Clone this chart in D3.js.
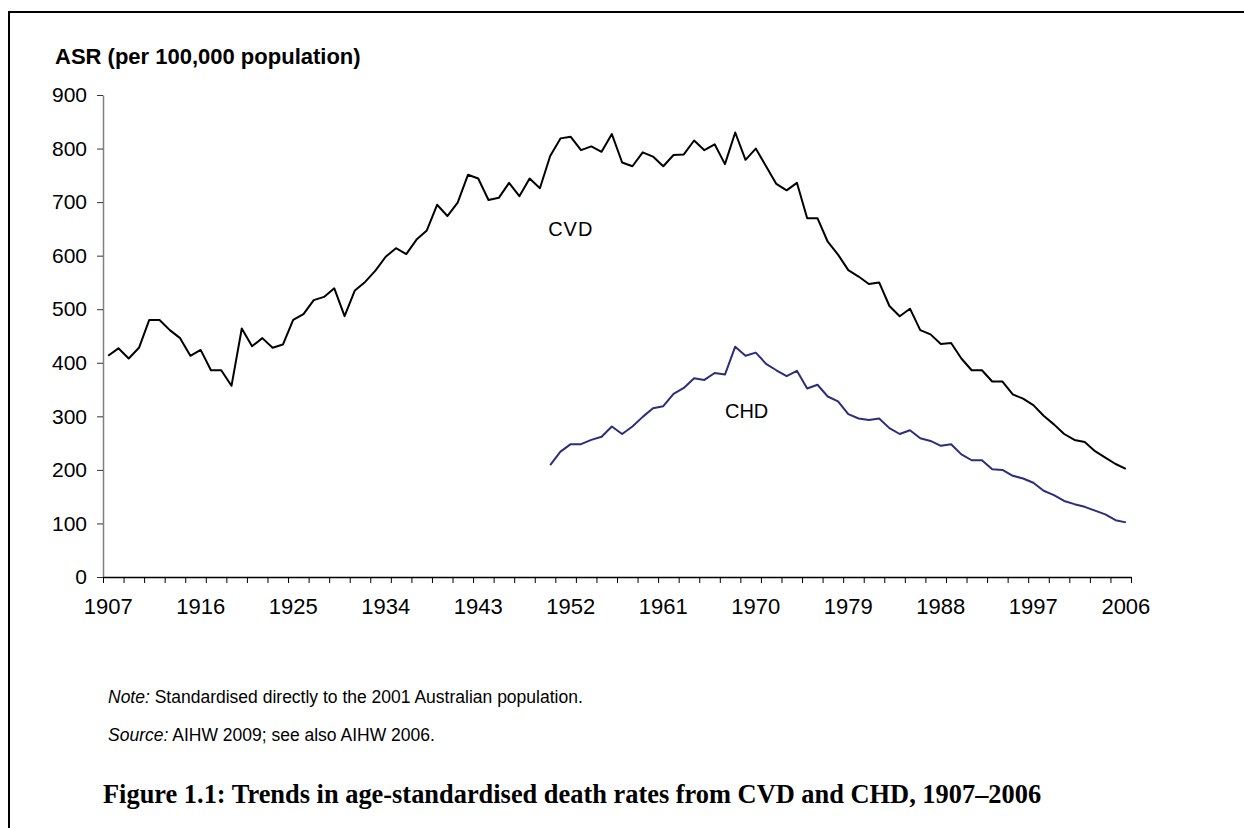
<!DOCTYPE html>
<html>
<head>
<meta charset="utf-8">
<script src="https://cdn.jsdelivr.net/npm/d3@7"></script>
<style>
  body { margin: 0; background: #fff; }
  svg { display: block; }
</style>
</head>
<body>
<div id="chart"></div>
<script>
// Data
const years = d3.range(1907, 2007);
const chdYears = d3.range(1950, 2007);

const cvdValues = [
  413, 427, 408, 428, 480, 480, 461, 446, 413, 424,
  386, 386, 357, 464, 431, 446, 428, 434, 480, 491,
  517, 523, 539, 487, 535, 551, 572, 598, 614, 603,
  630, 647, 695, 674, 699, 751, 744, 704, 708, 736,
  711, 744, 726, 786, 819, 822, 797, 804, 794, 827,
  774, 767, 793, 785, 767, 788, 789, 815, 797, 808,
  771, 830, 779, 800, 767, 734, 722, 736, 670, 670,
  626, 602, 573, 561, 547, 550, 506, 487, 501, 461,
  453, 435, 437, 408, 386, 386, 365, 365, 341, 333,
  321, 301, 285, 267, 256, 252, 235, 223, 211, 202
];

const chdValues = [
  209, 234, 248, 248, 256, 262, 281, 267, 281, 299,
  315, 319, 342, 353, 371, 368, 381, 378, 430, 413,
  419, 398, 386, 375, 385, 352, 359, 337, 328, 304,
  296, 293, 296, 278, 267, 274, 259, 254, 245, 248,
  229, 218, 218, 201, 200, 189, 184, 176, 161, 153,
  142, 136, 131, 124, 117, 106, 102
];

const yTicks = [0, 100, 200, 300, 400, 500, 600, 700, 800, 900];
const xLabels = [1907, 1916, 1925, 1934, 1943, 1952, 1961, 1970, 1979, 1988, 1997, 2006];

const width = 1244;
const height = 828;
const marginLeft = 103;
const marginRight = 113;
const plotTop = 95;
const plotBottom = 577;

const svg = d3.select("#chart")
  .append("svg")
  .attr("width", width)
  .attr("height", height)
  .attr("font-family", "Liberation Sans, Arial, sans-serif");

// Frame (top and left edges)
svg.append("path")
  .attr("d", `M9,${height} V12 H${width}`)
  .attr("fill", "none")
  .attr("stroke", "#000")
  .attr("stroke-width", 2);

// Scales
const x = d3.scaleBand()
  .domain(years)
  .range([marginLeft, width - marginRight])
  .padding(0);

const xEdge = d3.scaleLinear()
  .domain([1907, 2007])
  .range([marginLeft, width - marginRight]);

const y = d3.scaleLinear()
  .domain([0, 900])
  .range([plotBottom, plotTop]);

const cx = d => x(d) + x.bandwidth() / 2;

// Y axis
svg.append("g")
  .attr("transform", `translate(${marginLeft},0)`)
  .call(d3.axisLeft(y).tickValues(yTicks).tickSize(6).tickPadding(10).tickSizeOuter(0))
  .call(g => g.select(".domain").attr("stroke", "#808080").attr("stroke-width", 1.5))
  .call(g => g.selectAll(".tick line").attr("stroke", "#333"))
  .call(g => g.selectAll(".tick text")
    .attr("font-size", 21)
    .attr("font-family", "Liberation Sans, Arial, sans-serif")
    .attr("fill", "#000"));

// X axis: tick marks between categories every two years
svg.append("g")
  .attr("transform", `translate(0,${plotBottom})`)
  .call(d3.axisBottom(xEdge)
    .tickValues(d3.range(1907, 2008, 2).concat([2007]))
    .tickSize(6)
    .tickSizeOuter(0)
    .tickFormat(""))
  .call(g => g.select(".domain").attr("stroke", "#000").attr("stroke-width", 1.5))
  .call(g => g.selectAll(".tick line").attr("stroke", "#000"));

// X labels centred on categories
svg.append("g")
  .attr("transform", `translate(0,${plotBottom})`)
  .call(d3.axisBottom(x).tickValues(xLabels).tickSize(0).tickPadding(21))
  .call(g => g.select(".domain").remove())
  .call(g => g.selectAll(".tick text")
    .attr("font-size", 22)
    .attr("font-family", "Liberation Sans, Arial, sans-serif")
    .attr("fill", "#000"));

// Axis title
svg.append("text")
  .attr("x", 55)
  .attr("y", 64)
  .attr("font-size", 22)
  .attr("font-weight", "bold")
  .text("ASR (per 100,000 population)");

// Lines
const line = d3.line()
  .x(d => cx(d[0]))
  .y(d => y(d[1]));

svg.append("path")
  .datum(d3.zip(years, cvdValues))
  .attr("fill", "none")
  .attr("stroke", "#000")
  .attr("stroke-width", 2)
  .attr("stroke-linejoin", "round")
  .attr("d", line);

svg.append("path")
  .datum(d3.zip(chdYears, chdValues))
  .attr("fill", "none")
  .attr("stroke", "#2b2e7a")
  .attr("stroke-width", 2)
  .attr("stroke-linejoin", "round")
  .attr("d", line);

// Series labels
svg.append("text")
  .attr("x", cx(1950) - 2)
  .attr("y", y(650) + 7)
  .attr("font-size", 20)
  .attr("letter-spacing", 1)
  .text("CVD");

svg.append("text")
  .attr("x", cx(1967))
  .attr("y", y(310) + 7)
  .attr("font-size", 20)
  .text("CHD");

// Notes
const note = svg.append("text")
  .attr("x", 108)
  .attr("y", 703)
  .attr("font-size", 17.5);
note.append("tspan").attr("font-style", "italic").text("Note:");
note.append("tspan").text(" Standardised directly to the 2001 Australian population.");

const source = svg.append("text")
  .attr("x", 108)
  .attr("y", 741)
  .attr("font-size", 17.5);
source.append("tspan").attr("font-style", "italic").text("Source:");
source.append("tspan").text(" AIHW 2009; see also AIHW 2006.");

// Figure caption
svg.append("text")
  .attr("x", 103)
  .attr("y", 803)
  .attr("font-size", 26.4)
  .attr("font-weight", "bold")
  .attr("font-family", "Liberation Serif, Times New Roman, serif")
  .text("Figure 1.1: Trends in age-standardised death rates from CVD and CHD, 1907–2006");
</script>
</body>
</html>
